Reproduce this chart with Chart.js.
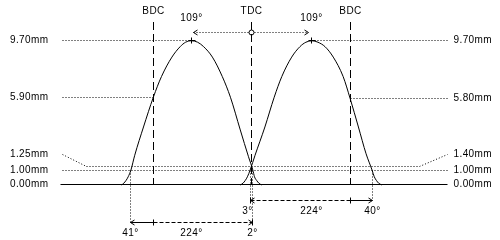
<!DOCTYPE html>
<html>
<head>
<meta charset="utf-8">
<script src="https://cdn.jsdelivr.net/npm/chart.js@4.4.0/dist/chart.umd.min.js"></script>
<style>
  html, body { margin: 0; padding: 0; background: #fff; }
  #wrap { width: 500px; height: 240px; }
</style>
</head>
<body>
<div id="wrap"><canvas id="chart-valve"></canvas></div>
<script>
// crank angle in degrees (TDC = 0, BDC = -180 / +180), lift in mm
const EXH_ANGLE = [-238, -234, -230, -226, -221, -214, -198, -180, -165, -146, -131, -121, -110, -99, -88, -72, -54, -39, -21, -6, 2, 5, 9, 13, 18];
const EXH_LIFT  = [0, 0.12, 0.3, 0.55, 1.0, 2.0, 3.9, 5.9, 7.3, 8.6, 9.3, 9.6, 9.7, 9.6, 9.3, 8.6, 7.3, 5.9, 3.7, 1.9, 1.0, 0.55, 0.3, 0.12, 0];
const INT_ANGLE = [-21, -16, -12, -8, -3, 6, 24, 41, 55, 73, 88, 99, 110, 121, 134, 149, 167, 180, 195, 209, 220, 224, 228, 232, 238];
const INT_LIFT  = [0, 0.12, 0.3, 0.55, 1.0, 2.0, 3.9, 5.9, 7.3, 8.6, 9.3, 9.6, 9.7, 9.6, 9.3, 8.6, 7.3, 5.8, 3.9, 2.1, 1.0, 0.55, 0.3, 0.12, 0];

const DEAD_CENTRES = [-180, 0, 180];
const DEAD_LABELS = ['BDC', 'TDC', 'BDC'];

const PEAK_ANGLES = [-110, 110];
const PEAK_LIFT = 9.70;
const PEAK_LABELS = ['109°', '109°'];

const LEFT_LIFTS = [9.70, 5.90, 1.25, 1.00, 0.00];
const LEFT_LABELS = ['9.70mm', '5.90mm', '1.25mm', '1.00mm', '0.00mm'];
const RIGHT_LIFTS = [9.70, 5.80, 1.40, 1.00, 0.00];
const RIGHT_LABELS = ['9.70mm', '5.80mm', '1.40mm', '1.00mm', '0.00mm'];

const CHECK_LIFT = 1.00;
const RAMP_ROW = 1.25;

const EXH_EVENTS = [-221, 2];   // opens 41° BBDC, closes 2° ATDC
const EXH_EVENT_LABELS = ['41°', '224°', '2°'];
const INT_EVENTS = [-3, 220];   // opens 3° BTDC, closes 40° ABDC
const INT_EVENT_LABELS = ['3°', '224°', '40°'];

const FONT = '10px "Liberation Sans", Arial, sans-serif';

const valveMarks = {
  id: 'valveMarks',
  afterDatasetsDraw(chart) {
    const { ctx, chartArea: a, scales: { x, y } } = chart;
    const X = v => Math.floor(x.getPixelForValue(v)) + 0.5;
    const Y = v => Math.floor(y.getPixelForValue(v)) + 0.5;
    const L = Math.floor(a.left) + 0.5, R = Math.floor(a.right) + 0.5;
    const dot = [1, 2];

    const line = (x1, y1, x2, y2, dash) => {
      ctx.setLineDash(dash || []);
      ctx.beginPath(); ctx.moveTo(x1, y1); ctx.lineTo(x2, y2); ctx.stroke();
    };
    const head = (px, py, dir) => {
      ctx.setLineDash([]);
      ctx.beginPath();
      ctx.moveTo(px - dir * 4, py - 2.5); ctx.lineTo(px, py); ctx.lineTo(px - dir * 4, py + 2.5);
      ctx.stroke();
    };
    const tick = (px, py) => line(px, py - 3, px, py + 3);
    const text = (s, px, py, align) => { ctx.textAlign = align || 'center'; ctx.fillText(s, px, py); };

    ctx.save();
    ctx.strokeStyle = '#000';
    ctx.fillStyle = '#000';
    ctx.lineWidth = 1;
    ctx.font = FONT;
    ctx.letterSpacing = '0.4px';
    ctx.textBaseline = 'middle';

    // baseline
    line(L - 2, Y(0), R, Y(0));

    // horizontal guides
    line(L, Y(LEFT_LIFTS[0]), X(PEAK_ANGLES[0]), Y(LEFT_LIFTS[0]), dot);
    line(X(PEAK_ANGLES[1]), Y(RIGHT_LIFTS[0]), R, Y(RIGHT_LIFTS[0]), dot);
    line(L, Y(LEFT_LIFTS[1]), X(DEAD_CENTRES[0]), Y(LEFT_LIFTS[1]), dot);
    line(X(DEAD_CENTRES[2]), Y(RIGHT_LIFTS[1]), R, Y(RIGHT_LIFTS[1]), dot);
    line(L, Y(CHECK_LIFT), R, Y(CHECK_LIFT), dot);

    // ramp row with leaders to its raised labels
    const rampY = Y(RAMP_ROW);
    const rampLabelY = rampY - 12;
    line(L, rampLabelY, L + 24, rampY, dot);
    line(L + 24, rampY, R - 28, rampY, dot);
    line(R - 28, rampY, R, rampLabelY, dot);

    // side labels
    LEFT_LABELS.forEach((s, i) => {
      const py = i === 2 ? rampLabelY : Y(LEFT_LIFTS[i]);
      text(s, L - 14, py, 'right');
    });
    RIGHT_LABELS.forEach((s, i) => {
      const py = i === 2 ? rampLabelY : Y(RIGHT_LIFTS[i]);
      text(s, R + 6, py, 'left');
    });

    // dead centre lines
    DEAD_CENTRES.forEach((d, i) => {
      line(X(d), 22, X(d), Y(0), [8, 4]);
      text(DEAD_LABELS[i], X(d), 11);
    });

    // peaks
    const peakY = Y(PEAK_LIFT);
    PEAK_ANGLES.forEach((d, i) => {
      line(X(d) - 3, peakY, X(d) + 4, peakY);
      line(X(d), peakY - 3, X(d), peakY + 3);
      text(PEAK_LABELS[i], X(d), peakY - 22);
    });

    // peak-to-TDC arrows
    const topY = peakY - 8;
    const tdcX = X(DEAD_CENTRES[1]);
    line(X(PEAK_ANGLES[0]) + 2, topY, tdcX - 3, topY, dot);
    head(X(PEAK_ANGLES[0]) + 2, topY, -1);
    line(tdcX + 3, topY, X(PEAK_ANGLES[1]) - 3, topY, dot);
    head(X(PEAK_ANGLES[1]) - 3, topY, 1);
    ctx.setLineDash([]);
    ctx.beginPath(); ctx.arc(tdcX, topY, 2.5, 0, Math.PI * 2); ctx.stroke();

    // timing rows
    const intRow = Y(0) + 16, exhRow = Y(0) + 38;
    const dash = [4, 2];

    // intake: 3° BTDC .. 40° ABDC
    const i0 = X(INT_EVENTS[0]), i1 = X(INT_EVENTS[1]), bdcR = X(DEAD_CENTRES[2]);
    line(i0, Y(CHECK_LIFT), i0, intRow, dot);
    line(i1, Y(CHECK_LIFT), i1, intRow, dot);
    line(i0, intRow, bdcR, intRow, dash);
    line(bdcR, intRow, i1, intRow);
    head(i0, intRow, -1); tick(i0, intRow); tick(bdcR, intRow); head(i1, intRow, 1);
    text(INT_EVENT_LABELS[0], i0 - 3, intRow + 11);
    text(INT_EVENT_LABELS[1], (i0 + i1) / 2, intRow + 11);
    text(INT_EVENT_LABELS[2], i1, intRow + 11);

    // exhaust: 41° BBDC .. 2° ATDC
    const e0 = X(EXH_EVENTS[0]), e1 = X(EXH_EVENTS[1]), bdcL = X(DEAD_CENTRES[0]);
    line(e0, Y(CHECK_LIFT), e0, exhRow, dot);
    line(e1, Y(CHECK_LIFT), e1, exhRow, dot);
    line(e0, exhRow, bdcL, exhRow);
    line(bdcL, exhRow, e1, exhRow, dash);
    head(e0, exhRow, -1); tick(bdcL, exhRow); head(e1, exhRow, 1); tick(e1, exhRow);
    text(EXH_EVENT_LABELS[0], e0, exhRow + 11);
    text(EXH_EVENT_LABELS[1], (e0 + e1) / 2, exhRow + 11);
    text(EXH_EVENT_LABELS[2], e1, exhRow + 11);

    ctx.restore();
  }
};

const toPoints = (xs, ys) => xs.map((v, i) => ({ x: v, y: ys[i] }));
const lobe = (xs, ys) => ({
  data: toPoints(xs, ys),
  borderColor: '#000', borderWidth: 1, pointRadius: 0,
  cubicInterpolationMode: 'monotone', fill: false
});

new Chart(document.getElementById('chart-valve'), {
  type: 'line',
  data: { datasets: [lobe(EXH_ANGLE, EXH_LIFT), lobe(INT_ANGLE, INT_LIFT)] },
  options: {
    responsive: true, maintainAspectRatio: false, animation: false, events: [],
    layout: { padding: { left: 62, right: 53, top: 0, bottom: 0 } },
    plugins: { legend: { display: false }, tooltip: { enabled: false } },
    scales: {
      x: { type: 'linear', min: -347, max: 357, display: false },
      y: { type: 'linear', min: -3.7, max: 12.44, display: false }
    }
  },
  plugins: [valveMarks]
});
</script>
</body>
</html>
